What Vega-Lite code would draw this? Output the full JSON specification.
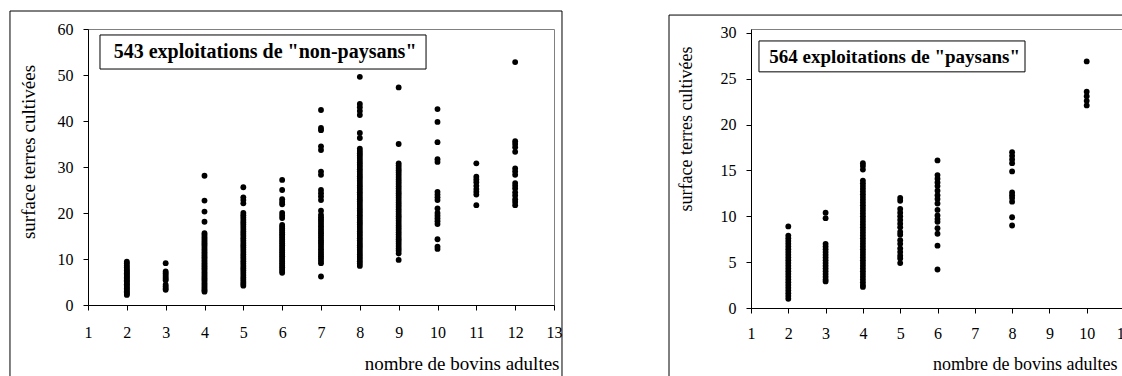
{
"$schema": "https://vega.github.io/schema/vega-lite/v6.json",
"padding": {"left": 8, "top": 10, "right": 0, "bottom": 0},
"spacing": 105,
"config": {
 "view": {"stroke": "#808080", "strokeWidth": 1},
 "font": "Liberation Serif",
 "style": {"guide-label": {"font": "Liberation Serif", "fontSize": 16, "fill": "black"}, "guide-title": {"font": "Liberation Serif", "fontWeight": "normal", "fill": "black"}},
 "axis": {"grid": false, "domainColor": "black", "tickColor": "black", "tickSize": 5, "labelFont": "Liberation Serif", "labelFontSize": 16, "labelColor": "black", "labelFlush": false, "labelOverlap": false, "labelBound": false}
},
"datasets": {
"np": [
{"b":2,"s":9.4},{"b":2,"s":9.1},{"b":2,"s":8.6},{"b":2,"s":8.2},{"b":2,"s":7.8},{"b":2,"s":7.5},{"b":2,"s":7.2},{"b":2,"s":6.9},{"b":2,"s":6.6},{"b":2,"s":6.3},{"b":2,"s":6.0},{"b":2,"s":5.7},{"b":2,"s":5.4},{"b":2,"s":5.1},{"b":2,"s":4.8},{"b":2,"s":4.5},{"b":2,"s":4.2},{"b":2,"s":3.9},{"b":2,"s":3.6},{"b":2,"s":3.3},{"b":2,"s":3.0},{"b":2,"s":2.7},{"b":2,"s":2.4},{"b":2,"s":2.2},
{"b":3,"s":9.1},{"b":3,"s":7.3},{"b":3,"s":6.9},{"b":3,"s":6.5},{"b":3,"s":6.1},{"b":3,"s":5.7},{"b":3,"s":5.4},{"b":3,"s":4.4},{"b":3,"s":4.0},{"b":3,"s":3.6},{"b":3,"s":3.3},
{"b":4,"s":28.1},{"b":4,"s":22.7},{"b":4,"s":20.3},{"b":4,"s":18.1},{"b":4,"s":15.6},{"b":4,"s":15.2},{"b":4,"s":14.8},{"b":4,"s":14.4},{"b":4,"s":14.0},{"b":4,"s":13.6},{"b":4,"s":13.2},{"b":4,"s":12.8},{"b":4,"s":12.4},{"b":4,"s":12.0},{"b":4,"s":11.6},{"b":4,"s":11.2},{"b":4,"s":10.8},{"b":4,"s":10.4},{"b":4,"s":10.0},{"b":4,"s":9.6},{"b":4,"s":9.2},{"b":4,"s":8.8},{"b":4,"s":8.4},{"b":4,"s":8.0},{"b":4,"s":7.6},{"b":4,"s":7.2},{"b":4,"s":6.8},{"b":4,"s":6.4},{"b":4,"s":6.0},{"b":4,"s":5.6},{"b":4,"s":5.2},{"b":4,"s":4.8},{"b":4,"s":4.4},{"b":4,"s":4.0},{"b":4,"s":3.6},{"b":4,"s":3.2},{"b":4,"s":2.9},
{"b":5,"s":25.6},{"b":5,"s":23.4},{"b":5,"s":22.8},{"b":5,"s":22.1},{"b":5,"s":20.0},{"b":5,"s":19.5},{"b":5,"s":19.0},{"b":5,"s":18.5},{"b":5,"s":18.0},{"b":5,"s":17.5},{"b":5,"s":17.0},{"b":5,"s":16.5},{"b":5,"s":16.0},{"b":5,"s":15.5},{"b":5,"s":15.0},{"b":5,"s":14.5},{"b":5,"s":14.0},{"b":5,"s":13.5},{"b":5,"s":13.0},{"b":5,"s":12.5},{"b":5,"s":12.0},{"b":5,"s":11.5},{"b":5,"s":11.0},{"b":5,"s":10.5},{"b":5,"s":10.0},{"b":5,"s":9.5},{"b":5,"s":9.0},{"b":5,"s":8.5},{"b":5,"s":8.0},{"b":5,"s":7.5},{"b":5,"s":7.0},{"b":5,"s":6.5},{"b":5,"s":6.0},{"b":5,"s":5.5},{"b":5,"s":5.0},{"b":5,"s":4.6},{"b":5,"s":4.2},
{"b":6,"s":27.2},{"b":6,"s":25.0},{"b":6,"s":23.0},{"b":6,"s":22.4},{"b":6,"s":21.9},{"b":6,"s":20.0},{"b":6,"s":19.4},{"b":6,"s":18.9},{"b":6,"s":17.4},{"b":6,"s":17.0},{"b":6,"s":16.6},{"b":6,"s":16.2},{"b":6,"s":15.8},{"b":6,"s":15.4},{"b":6,"s":15.0},{"b":6,"s":14.6},{"b":6,"s":14.2},{"b":6,"s":13.8},{"b":6,"s":13.4},{"b":6,"s":13.0},{"b":6,"s":12.6},{"b":6,"s":12.2},{"b":6,"s":11.8},{"b":6,"s":11.4},{"b":6,"s":11.0},{"b":6,"s":10.6},{"b":6,"s":10.2},{"b":6,"s":9.8},{"b":6,"s":9.4},{"b":6,"s":9.0},{"b":6,"s":8.6},{"b":6,"s":8.2},{"b":6,"s":7.8},{"b":6,"s":7.4},{"b":6,"s":7.0},
{"b":7,"s":42.4},{"b":7,"s":38.5},{"b":7,"s":38.0},{"b":7,"s":34.5},{"b":7,"s":33.7},{"b":7,"s":29.0},{"b":7,"s":28.3},{"b":7,"s":25.0},{"b":7,"s":24.3},{"b":7,"s":23.6},{"b":7,"s":22.8},{"b":7,"s":20.5},{"b":7,"s":19.6},{"b":7,"s":19.1},{"b":7,"s":18.6},{"b":7,"s":18.1},{"b":7,"s":17.6},{"b":7,"s":17.1},{"b":7,"s":16.6},{"b":7,"s":16.1},{"b":7,"s":15.6},{"b":7,"s":15.1},{"b":7,"s":14.6},{"b":7,"s":14.1},{"b":7,"s":13.6},{"b":7,"s":13.1},{"b":7,"s":12.6},{"b":7,"s":12.1},{"b":7,"s":11.6},{"b":7,"s":11.1},{"b":7,"s":10.6},{"b":7,"s":10.1},{"b":7,"s":9.6},{"b":7,"s":9.1},{"b":7,"s":6.2},
{"b":8,"s":49.6},{"b":8,"s":43.7},{"b":8,"s":43.0},{"b":8,"s":42.2},{"b":8,"s":41.3},{"b":8,"s":37.4},{"b":8,"s":36.3},{"b":8,"s":34.0},{"b":8,"s":33.5},{"b":8,"s":33.0},{"b":8,"s":32.5},{"b":8,"s":32.0},{"b":8,"s":31.5},{"b":8,"s":31.0},{"b":8,"s":30.5},{"b":8,"s":30.0},{"b":8,"s":29.5},{"b":8,"s":29.0},{"b":8,"s":28.5},{"b":8,"s":28.0},{"b":8,"s":27.5},{"b":8,"s":27.0},{"b":8,"s":26.5},{"b":8,"s":26.0},{"b":8,"s":25.5},{"b":8,"s":25.0},{"b":8,"s":24.5},{"b":8,"s":24.0},{"b":8,"s":23.5},{"b":8,"s":23.0},{"b":8,"s":22.5},{"b":8,"s":22.0},{"b":8,"s":21.5},{"b":8,"s":21.0},{"b":8,"s":20.5},{"b":8,"s":20.0},{"b":8,"s":19.5},{"b":8,"s":19.0},{"b":8,"s":18.5},{"b":8,"s":18.0},{"b":8,"s":17.5},{"b":8,"s":17.0},{"b":8,"s":16.5},{"b":8,"s":16.0},{"b":8,"s":15.5},{"b":8,"s":15.0},{"b":8,"s":14.5},{"b":8,"s":14.0},{"b":8,"s":13.5},{"b":8,"s":13.0},{"b":8,"s":12.5},{"b":8,"s":12.0},{"b":8,"s":11.5},{"b":8,"s":11.0},{"b":8,"s":10.5},{"b":8,"s":10.0},{"b":8,"s":9.5},{"b":8,"s":9.0},{"b":8,"s":8.5},
{"b":9,"s":47.3},{"b":9,"s":35.0},{"b":9,"s":30.8},{"b":9,"s":30.3},{"b":9,"s":29.8},{"b":9,"s":29.3},{"b":9,"s":28.8},{"b":9,"s":28.3},{"b":9,"s":27.8},{"b":9,"s":27.3},{"b":9,"s":26.8},{"b":9,"s":26.3},{"b":9,"s":25.8},{"b":9,"s":25.3},{"b":9,"s":24.8},{"b":9,"s":24.3},{"b":9,"s":23.8},{"b":9,"s":23.3},{"b":9,"s":22.8},{"b":9,"s":22.3},{"b":9,"s":21.8},{"b":9,"s":21.3},{"b":9,"s":20.8},{"b":9,"s":20.3},{"b":9,"s":19.8},{"b":9,"s":19.3},{"b":9,"s":18.8},{"b":9,"s":18.3},{"b":9,"s":17.8},{"b":9,"s":17.3},{"b":9,"s":16.8},{"b":9,"s":16.3},{"b":9,"s":15.8},{"b":9,"s":15.3},{"b":9,"s":14.8},{"b":9,"s":14.3},{"b":9,"s":13.8},{"b":9,"s":13.3},{"b":9,"s":12.8},{"b":9,"s":12.3},{"b":9,"s":11.8},{"b":9,"s":11.2},{"b":9,"s":9.8},
{"b":10,"s":42.6},{"b":10,"s":39.8},{"b":10,"s":35.4},{"b":10,"s":31.7},{"b":10,"s":31.1},{"b":10,"s":24.6},{"b":10,"s":24.0},{"b":10,"s":23.4},{"b":10,"s":22.8},{"b":10,"s":21.0},{"b":10,"s":20.0},{"b":10,"s":19.4},{"b":10,"s":18.8},{"b":10,"s":18.2},{"b":10,"s":17.6},{"b":10,"s":14.3},{"b":10,"s":12.7},{"b":10,"s":12.2},
{"b":11,"s":30.8},{"b":11,"s":27.9},{"b":11,"s":27.3},{"b":11,"s":26.7},{"b":11,"s":25.9},{"b":11,"s":25.2},{"b":11,"s":24.6},{"b":11,"s":24.0},{"b":11,"s":21.7},
{"b":12,"s":52.8},{"b":12,"s":35.6},{"b":12,"s":35.0},{"b":12,"s":34.3},{"b":12,"s":33.3},{"b":12,"s":29.7},{"b":12,"s":29.0},{"b":12,"s":28.3},{"b":12,"s":26.5},{"b":12,"s":25.9},{"b":12,"s":25.3},{"b":12,"s":24.5},{"b":12,"s":23.8},{"b":12,"s":23.0},{"b":12,"s":22.4},{"b":12,"s":21.7}
],
"p": [
{"b":2,"s":8.9},{"b":2,"s":7.9},{"b":2,"s":7.6},{"b":2,"s":7.3},{"b":2,"s":7.0},{"b":2,"s":6.7},{"b":2,"s":6.4},{"b":2,"s":6.1},{"b":2,"s":5.8},{"b":2,"s":5.5},{"b":2,"s":5.2},{"b":2,"s":4.9},{"b":2,"s":4.6},{"b":2,"s":4.3},{"b":2,"s":4.0},{"b":2,"s":3.7},{"b":2,"s":3.4},{"b":2,"s":3.1},{"b":2,"s":2.8},{"b":2,"s":2.5},{"b":2,"s":2.2},{"b":2,"s":1.9},{"b":2,"s":1.6},{"b":2,"s":1.3},{"b":2,"s":1.0},
{"b":3,"s":10.4},{"b":3,"s":9.8},{"b":3,"s":7.0},{"b":3,"s":6.7},{"b":3,"s":6.4},{"b":3,"s":6.1},{"b":3,"s":5.8},{"b":3,"s":5.5},{"b":3,"s":5.2},{"b":3,"s":4.9},{"b":3,"s":4.6},{"b":3,"s":4.3},{"b":3,"s":4.0},{"b":3,"s":3.7},{"b":3,"s":3.4},{"b":3,"s":3.1},{"b":3,"s":2.9},
{"b":4,"s":15.8},{"b":4,"s":15.5},{"b":4,"s":15.1},{"b":4,"s":13.9},{"b":4,"s":13.6},{"b":4,"s":13.3},{"b":4,"s":13.0},{"b":4,"s":12.7},{"b":4,"s":12.4},{"b":4,"s":12.1},{"b":4,"s":11.8},{"b":4,"s":11.5},{"b":4,"s":11.2},{"b":4,"s":10.9},{"b":4,"s":10.6},{"b":4,"s":10.3},{"b":4,"s":10.0},{"b":4,"s":9.7},{"b":4,"s":9.4},{"b":4,"s":9.1},{"b":4,"s":8.8},{"b":4,"s":8.5},{"b":4,"s":8.2},{"b":4,"s":7.9},{"b":4,"s":7.6},{"b":4,"s":7.3},{"b":4,"s":7.0},{"b":4,"s":6.7},{"b":4,"s":6.4},{"b":4,"s":6.1},{"b":4,"s":5.8},{"b":4,"s":5.5},{"b":4,"s":5.2},{"b":4,"s":4.9},{"b":4,"s":4.6},{"b":4,"s":4.3},{"b":4,"s":4.0},{"b":4,"s":3.7},{"b":4,"s":3.4},{"b":4,"s":3.1},{"b":4,"s":2.8},{"b":4,"s":2.5},{"b":4,"s":2.3},
{"b":5,"s":12.0},{"b":5,"s":11.7},{"b":5,"s":10.8},{"b":5,"s":10.4},{"b":5,"s":10.0},{"b":5,"s":9.6},{"b":5,"s":9.2},{"b":5,"s":8.8},{"b":5,"s":8.3},{"b":5,"s":8.0},{"b":5,"s":7.4},{"b":5,"s":7.0},{"b":5,"s":6.5},{"b":5,"s":6.1},{"b":5,"s":5.7},{"b":5,"s":5.4},{"b":5,"s":4.9},
{"b":6,"s":16.1},{"b":6,"s":14.5},{"b":6,"s":14.1},{"b":6,"s":13.7},{"b":6,"s":13.3},{"b":6,"s":12.8},{"b":6,"s":12.3},{"b":6,"s":11.9},{"b":6,"s":11.4},{"b":6,"s":10.7},{"b":6,"s":10.1},{"b":6,"s":9.7},{"b":6,"s":9.4},{"b":6,"s":8.7},{"b":6,"s":8.1},{"b":6,"s":6.8},{"b":6,"s":4.2},
{"b":8,"s":17.0},{"b":8,"s":16.6},{"b":8,"s":16.2},{"b":8,"s":15.8},{"b":8,"s":14.9},{"b":8,"s":12.6},{"b":8,"s":12.3},{"b":8,"s":12.0},{"b":8,"s":11.6},{"b":8,"s":9.9},{"b":8,"s":9.0},
{"b":10,"s":26.9},{"b":10,"s":23.6},{"b":10,"s":23.1},{"b":10,"s":22.6},{"b":10,"s":22.1}
]
},
"hconcat": [
{
 "width": 466, "height": 276,
 "resolve": {"axis": {"x": "independent", "y": "independent"}},
 "layer": [
  {"data": {"name": "np"},
   "mark": {"type": "circle", "color": "black", "opacity": 1, "size": 34},
   "encoding": {
    "x": {"field": "b", "type": "quantitative", "scale": {"domain": [1, 13], "nice": false, "zero": false},
          "axis": {"orient": "bottom", "values": [1,2,3,4,5,6,7,8,9,10,11,12,13], "labelFont": "Liberation Serif", "labelFontSize": 16, "labelColor": "black", "labelFlush": false, "labelOverlap": false, "labelBound": false, "labelPadding": 14,
                   "title": "nombre de bovins adultes", "titleFont": "Liberation Serif", "titleFontWeight": "normal", "titleColor": "black", "titleFontSize": 19, "titleAnchor": "end", "titleAlign": "right", "titleBaseline": "alphabetic", "titleX": 471, "titleY": 64}},
    "y": {"field": "s", "type": "quantitative", "scale": {"domain": [0, 60], "nice": false, "zero": false},
          "axis": {"orient": "left", "values": [0,10,20,30,40,50,60], "labelFont": "Liberation Serif", "labelFontSize": 16, "labelColor": "black", "labelFlush": false, "labelOverlap": false, "labelBound": false, "labelPadding": 10,
                   "title": "surface terres cultivées", "titleFont": "Liberation Serif", "titleFontWeight": "normal", "titleColor": "black", "titleFontSize": 19, "titleAngle": -90, "titleAlign": "center", "titleBaseline": "alphabetic", "titleX": -54, "titleY": 122.5}}
   }},
  {"data": {"values": [{}]},
   "mark": {"type": "rect", "filled": false, "stroke": "black", "strokeWidth": 1, "clip": false},
   "encoding": {"x": {"datum": -1.009, "type": "quantitative", "axis": null}, "x2": {"datum": 13.206}, "y": {"datum": 63.91, "type": "quantitative", "axis": null}, "y2": {"datum": -20}}},
  {"data": {"values": [{}]},
   "mark": {"type": "rect", "fill": "white", "stroke": "black", "strokeWidth": 1},
   "encoding": {"x": {"datum": 1.309, "type": "quantitative", "axis": null}, "x2": {"datum": 9.705}, "y": {"datum": 58.7, "type": "quantitative", "axis": null}, "y2": {"datum": 51.3}}},
  {"data": {"values": [{}]},
   "mark": {"type": "text", "text": "543 exploitations de \"non-paysans\"", "font": "Liberation Serif", "fontWeight": "bold", "fontSize": 20, "align": "center", "baseline": "middle", "color": "black"},
   "encoding": {"x": {"datum": 5.56, "type": "quantitative", "axis": null}, "y": {"datum": 55.0, "type": "quantitative", "axis": null}}}
 ]
},
{
 "width": 373, "height": 279,
 "resolve": {"axis": {"x": "independent", "y": "independent"}},
 "layer": [
  {"data": {"name": "p"},
   "mark": {"type": "circle", "color": "black", "opacity": 1, "size": 34},
   "encoding": {
    "x": {"field": "b", "type": "quantitative", "scale": {"domain": [1, 11], "nice": false, "zero": false},
          "axis": {"orient": "bottom", "values": [1,2,3,4,5,6,7,8,9,10,11], "labelFont": "Liberation Serif", "labelFontSize": 16, "labelColor": "black", "labelFlush": false, "labelOverlap": false, "labelBound": false, "labelPadding": 12,
                   "title": "nombre de bovins adultes", "titleFont": "Liberation Serif", "titleFontWeight": "normal", "titleColor": "black", "titleFontSize": 18, "titleAnchor": "end", "titleAlign": "right", "titleBaseline": "alphabetic", "titleX": 366, "titleY": 61}},
    "y": {"field": "s", "type": "quantitative", "scale": {"domain": [0, 30.435], "nice": false, "zero": false},
          "axis": {"orient": "left", "values": [0,5,10,15,20,25,30], "labelFont": "Liberation Serif", "labelFontSize": 16, "labelColor": "black", "labelFlush": false, "labelOverlap": false, "labelBound": false, "labelPadding": 10,
                   "title": "surface terres cultivées", "titleFont": "Liberation Serif", "titleFontWeight": "normal", "titleColor": "black", "titleFontSize": 18, "titleAngle": -90, "titleAlign": "center", "titleBaseline": "alphabetic", "titleX": -60, "titleY": 99.5}}
   }},
  {"data": {"values": [{}]},
   "mark": {"type": "rect", "filled": false, "stroke": "black", "strokeWidth": 1, "clip": false},
   "encoding": {"x": {"datum": -1.198, "type": "quantitative", "axis": null}, "x2": {"datum": 11.5}, "y": {"datum": 31.957, "type": "quantitative", "axis": null}, "y2": {"datum": -10}}},
  {"data": {"values": [{}]},
   "mark": {"type": "rect", "fill": "white", "stroke": "black", "strokeWidth": 1},
   "encoding": {"x": {"datum": 1.214, "type": "quantitative", "axis": null}, "x2": {"datum": 8.346}, "y": {"datum": 29.13, "type": "quantitative", "axis": null}, "y2": {"datum": 25.76}}},
  {"data": {"values": [{}]},
   "mark": {"type": "text", "text": "564 exploitations de \"paysans\"", "font": "Liberation Serif", "fontWeight": "bold", "fontSize": 19, "align": "center", "baseline": "middle", "color": "black"},
   "encoding": {"x": {"datum": 4.85, "type": "quantitative", "axis": null}, "y": {"datum": 27.42, "type": "quantitative", "axis": null}}}
 ]
}
]
}
